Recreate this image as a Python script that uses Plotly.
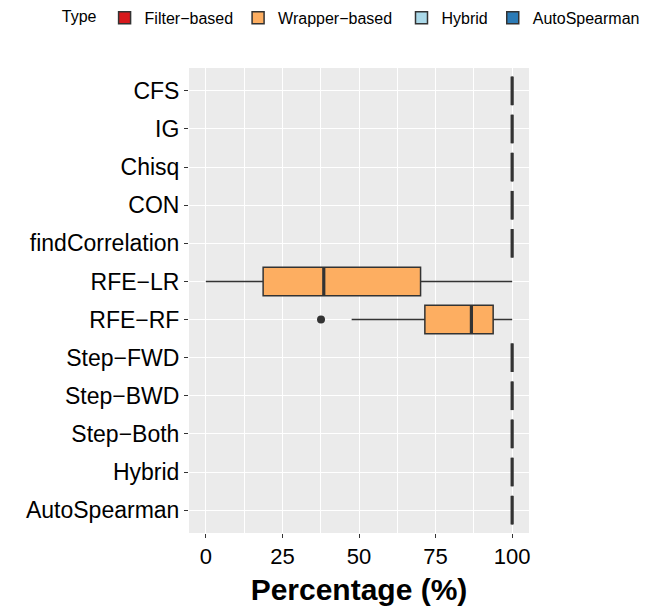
import plotly.graph_objects as go

# Feature-selection techniques, top to bottom
techniques = ["CFS", "IG", "Chisq", "CON", "findCorrelation", "RFE\u2212LR", "RFE\u2212RF",
              "Step\u2212FWD", "Step\u2212BWD", "Step\u2212Both", "Hybrid", "AutoSpearman"]
types = ["Filter-based"] * 5 + ["Wrapper-based"] * 5 + ["Hybrid", "AutoSpearman"]

# Box summary statistics (percentage)
q1 = [100, 100, 100, 100, 100, 18.7, 71.5, 100, 100, 100, 100, 100]
median = [100, 100, 100, 100, 100, 38.5, 86.7, 100, 100, 100, 100, 100]
q3 = [100, 100, 100, 100, 100, 70.1, 93.8, 100, 100, 100, 100, 100]
lower = [100, 100, 100, 100, 100, 0, 47.6, 100, 100, 100, 100, 100]
upper = [100, 100, 100, 100, 100, 100, 100, 100, 100, 100, 100, 100]

# Outlying observations
outlier_tech = ["RFE\u2212RF"]
outlier_val = [37.6]

type_order = ["Filter-based", "Wrapper-based", "Hybrid", "AutoSpearman"]
type_colors = {"Filter-based": "#D7191C", "Wrapper-based": "#FDAE61",
               "Hybrid": "#ABD9E9", "AutoSpearman": "#2C7BB6"}
type_labels = {"Filter-based": "Filter\u2212based", "Wrapper-based": "Wrapper\u2212based",
               "Hybrid": "Hybrid", "AutoSpearman": "AutoSpearman"}
# the one-row key is split over two legend boxes so it does not wrap
type_legend = {"Filter-based": "legend", "Wrapper-based": "legend",
               "Hybrid": "legend2", "AutoSpearman": "legend2"}

BOX_W = 0.75
EDGE = "#333333"
pos = list(range(len(techniques)))

fig = go.Figure()
for t in type_order:
    idx = [i for i, tt in enumerate(types) if tt == t]
    fig.add_trace(go.Box(
        y=[pos[i] for i in idx],
        q1=[q1[i] for i in idx], median=[median[i] for i in idx], q3=[q3[i] for i in idx],
        lowerfence=[lower[i] for i in idx], upperfence=[upper[i] for i in idx],
        orientation="h", width=BOX_W, whiskerwidth=0, boxpoints=False,
        fillcolor=type_colors[t], line=dict(color=EDGE, width=1.5),
        name=type_labels[t], legend=type_legend[t], hoverinfo="skip"))

# Thicker median bars
mx, my = [], []
for i, m in enumerate(median):
    mx += [m, m, None]
    my += [pos[i] - BOX_W / 2, pos[i] + BOX_W / 2, None]
fig.add_trace(go.Scatter(x=mx, y=my, mode="lines", line=dict(color=EDGE, width=3.2),
                         showlegend=False, hoverinfo="skip"))

fig.add_trace(go.Scatter(
    x=outlier_val, y=[techniques.index(t) for t in outlier_tech], mode="markers",
    marker=dict(color=EDGE, size=8), showlegend=False, hoverinfo="skip"))

legend_common = dict(orientation="h", yanchor="middle", y=1.108, font=dict(size=16),
                     bgcolor="rgba(0,0,0,0)", itemwidth=30, traceorder="normal")
fig.update_layout(
    width=670, height=606,
    margin=dict(l=189, r=141, t=68, b=73, autoexpand=False),
    paper_bgcolor="white", plot_bgcolor="#EBEBEB",
    font=dict(family="Liberation Sans, Arial, sans-serif", color="black"),
    legend=dict(x=-0.38, xanchor="left",
                title=dict(text="Type", side="left", font=dict(size=16)),
                **legend_common),
    legend2=dict(x=0.625, xanchor="left", **legend_common),
    showlegend=True,
)
fig.update_xaxes(
    range=[-5.5, 105.5], tickvals=[0, 25, 50, 75, 100], ticks="outside", ticklen=4,
    tickcolor=EDGE, tickwidth=1.2, tickfont=dict(size=22, color="black"),
    showgrid=True, gridcolor="white", gridwidth=1.4, zeroline=False, showline=False,
    minor=dict(dtick=12.5, tick0=0, showgrid=True, gridcolor="white", gridwidth=0.7),
    title=dict(text="<b>Percentage (%)</b>", font=dict(size=30, color="black"), standoff=10),
)
fig.update_yaxes(
    range=[len(techniques) - 0.4, -0.6], tickvals=pos, ticktext=techniques,
    ticks="outside", ticklen=4, tickcolor=EDGE, tickwidth=1.2,
    tickfont=dict(size=23, color="black"),
    showgrid=True, gridcolor="white", gridwidth=1.4, zeroline=False, showline=False,
)

fig.write_html("out.html")
